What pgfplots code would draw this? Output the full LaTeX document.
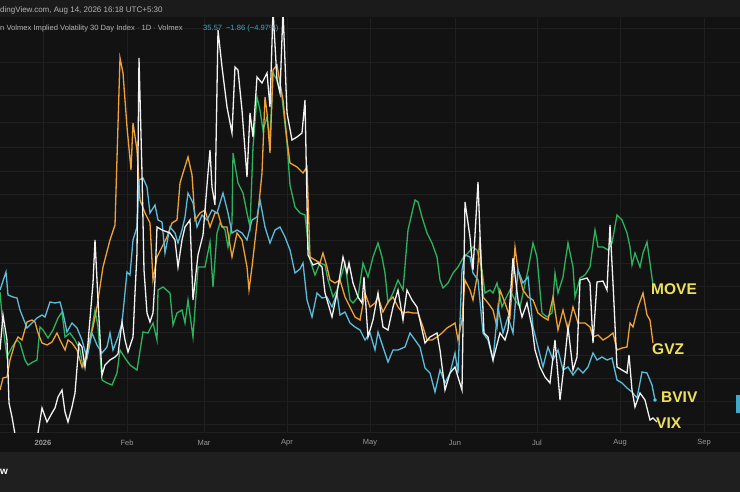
\documentclass[border=0pt]{standalone}
\usepackage{pgfplots}
\pgfplotsset{compat=1.18}
\usepackage{pgfplotstable}
\usepackage{fontspec}
\setmainfont{Liberation Sans}
\definecolor{bgc}{HTML}{121212}
\definecolor{topc}{HTML}{1B1B1B}
\definecolor{panelc}{HTML}{1F1F1F}
\definecolor{gridc}{HTML}{1F1F1F}
\definecolor{vixc}{HTML}{F2F2F2}
\definecolor{gvzc}{HTML}{F0A23A}
\definecolor{movec}{HTML}{2DB35E}
\definecolor{bvivc}{HTML}{5CBCDB}
\definecolor{labc}{HTML}{EEE25C}
\definecolor{txtc}{HTML}{B5B5B5}
\definecolor{tickc}{HTML}{9A9A9A}
\definecolor{pricec}{HTML}{3DA9CB}

\pgfplotstableread{
x y
0 290
6 272
8 295
13 297
17 298
20 310
27 328
32 323
37 318
42 315
45 317
50 302
55 303
60 302
63 313
67 332
72 323
77 328
82 340
87 358
92 333
97 345
102 353
107 347
110 333
113 350
118 337
122 323
127 272
130 275
133 240
137 227
139 180
143 178
147 187
150 213
155 205
158 220
162 222
165 253
170 227
175 233
178 243
182 230
185 217
188 193
193 203
197 227
202 215
207 220
212 210
217 213
223 193
228 213
232 233
237 230
242 233
247 240
252 220
257 217
260 200
265 227
270 243
275 230
280 227
285 237
290 250
295 273
300 269
303 263
307 300
312 317
317 293
322 298
327 297
332 307
337 293
340 315
345 312
350 323
355 327
360 330
365 340
370 333
375 350
378 332
383 347
388 362
393 350
398 350
405 347
410 333
415 340
420 347
425 368
430 373
435 392
440 370
445 383
450 373
455 353
458 373
462 270
465 255
470 257
473 273
478 280
483 333
488 340
493 360
498 307
503 333
508 317
513 333
518 270
523 283
528 277
533 327
538 347
543 367
548 347
553 360
558 350
563 370
568 367
573 375
578 368
583 373
588 367
593 353
597 360
602 357
607 360
612 358
617 380
622 383
627 388
632 392
637 398
642 372
647 373
652 385
655 400
}\bviv

\pgfplotstableread{
x y
0 350
3 315
7 340
9 403
12 417
16 440
20 455
33 455
38 433
42 408
47 422
52 413
55 408
58 397
62 390
65 412
68 422
72 407
75 393
79 343
82 347
85 367
88 343
93 283
95 240
98 300
102 375
105 365
110 360
115 357
118 354
122 322
125 340
128 352
133 337
135 293
137 253
139 58
142 173
144 270
147 313
150 322
153 313
155 280
157 227
162 230
170 233
175 240
178 267
182 240
185 227
190 220
193 300
198 255
203 235
208 173
210 150
212 187
215 205
218 30
222 67
227 107
232 133
235 67
238 70
242 110
247 177
250 113
253 137
257 77
262 83
267 73
270 107
273 10
277 80
280 93
283 10
287 113
292 140
297 137
302 133
305 100
308 255
313 265
318 263
322 267
325 293
332 317
337 293
343 257
347 273
349 263
353 283
358 297
362 303
364 277
368 337
373 320
378 293
383 327
388 330
393 307
398 290
403 320
407 290
412 300
417 307
425 343
430 337
437 333
440 350
445 390
450 373
455 367
458 377
462 390
465 202
470 237
473 270
478 182
482 287
484 333
488 337
493 360
500 333
505 340
508 330
513 258
518 300
522 317
527 303
532 327
535 350
540 367
545 377
550 383
555 340
560 400
565 357
568 327
573 370
577 357
580 280
587 278
590 283
593 343
597 282
603 281
607 290
610 225
613 283
617 367
622 370
627 373
629 355
632 390
635 407
640 393
645 400
650 420
653 418
657 422
}\vix

\pgfplotstableread{
x y
0 390
3 378
7 377
10 360
15 343
18 337
22 340
27 322
32 320
35 322
38 333
42 343
47 345
52 342
57 333
60 340
65 350
68 340
72 343
77 350
82 367
85 360
88 347
93 327
97 307
103 267
110 240
115 225
120 58
123 73
127 127
131 170
133 123
137 150
140 200
145 213
150 223
153 280
157 257
162 247
167 237
172 223
177 220
180 183
183 173
188 157
192 175
195 220
200 213
205 210
210 227
215 213
218 213
222 227
227 227
232 257
237 233
242 240
247 267
249 290
252 267
257 223
262 173
265 97
267 113
270 153
273 70
277 65
280 83
283 100
287 140
290 163
297 167
303 173
307 167
310 257
315 260
320 263
323 253
327 267
330 280
335 283
340 280
345 297
350 307
355 317
360 320
365 293
370 307
375 303
378 297
383 312
388 302
393 297
398 307
403 313
408 312
413 313
418 313
423 327
427 340
432 340
437 337
442 333
447 328
452 325
455 323
458 340
462 320
465 280
470 290
473 300
477 277
480 237
483 297
488 303
493 310
497 327
500 290
505 303
510 317
515 247
518 270
523 290
528 297
533 300
538 313
543 317
548 320
553 297
558 330
563 310
568 330
573 307
578 323
585 323
590 327
593 337
598 335
603 340
608 337
613 333
617 350
622 348
627 347
630 323
633 327
638 307
643 293
647 315
650 320
653 343
}\gvz

\pgfplotstableread{
x y
0 292
3 327
7 357
12 347
17 340
20 343
25 360
28 365
33 362
37 360
40 327
43 330
48 338
53 330
58 318
62 312
65 337
70 333
75 340
80 350
83 367
87 353
92 328
95 310
98 327
102 380
107 383
112 385
117 373
120 350
125 358
130 365
137 370
143 332
148 333
153 323
157 340
158 290
163 287
170 293
173 325
177 313
182 310
185 323
188 300
193 337
198 267
205 267
210 242
213 287
217 233
220 223
225 230
228 247
232 223
233 153
238 183
243 193
247 213
250 227
253 147
257 97
260 110
263 130
267 117
270 140
273 73
277 80
282 97
287 143
290 185
295 207
300 213
305 215
310 260
315 275
320 263
325 265
328 280
333 297
337 290
340 280
345 263
350 300
353 303
358 297
363 263
368 277
373 257
378 243
382 257
385 273
388 303
393 293
398 280
403 290
408 230
415 200
418 202
422 217
427 233
432 243
437 257
440 280
443 288
448 283
453 273
458 267
463 258
468 253
473 247
477 250
482 270
485 293
490 290
493 293
497 283
502 307
505 300
510 290
515 300
520 307
523 293
528 270
533 243
537 257
542 313
547 317
552 313
555 273
558 293
563 277
565 263
568 243
573 267
575 297
580 278
585 275
590 267
595 230
598 247
603 247
608 250
612 243
617 215
622 220
627 233
630 247
632 265
635 253
640 267
643 253
647 242
650 263
653 285
}\move

\begin{document}
\begin{tikzpicture}[x=1pt,y=1pt]
\useasboundingbox (0,0) rectangle (740,492);
\fill[bgc] (0,0) rectangle (740,492);
\fill[topc] (0,475) rectangle (740,492);
\fill[panelc] (0,0) rectangle (740,40);
\draw[gridc, line width=0.8pt] (0,60) -- (740,60);
\begin{axis}[
  at={(0pt,60pt)}, anchor=south west,
  scale only axis, width=740pt, height=414pt,
  xmin=0, xmax=740, ymin=18, ymax=432,
  y dir=reverse,
  axis line style={draw=none},
  tick style={draw=none},
  xtick={43,127,204,287,370,455,537,620,704},
  xticklabels={\textbf{2026},Feb,Mar,Apr,May,Jun,Jul,Aug,Sep},
  xticklabel pos=left,
  xticklabel style={font=\fontsize{7.5}{9}\selectfont, text=tickc, anchor=center, yshift=-11pt},
  ytick={28,62,95,122,147,171,194,217,240,263,286,309,332,355,378,401,424},
  yticklabels={},
  xmajorgrids, ymajorgrids,
  major grid style={draw=gridc, line width=0.7pt},
  clip=true,
]
\addplot[movec, line width=1.3pt] table[x=x,y=y] {\move};
\addplot[gvzc, line width=1.3pt] table[x=x,y=y] {\gvz};
\addplot[bvivc, line width=1.3pt] table[x=x,y=y] {\bviv};
\addplot[vixc, line width=1.3pt] table[x=x,y=y] {\vix};
\addplot[only marks, mark=*, mark size=1.6pt, bvivc] coordinates {(655,400)};
\end{axis}
\fill[pricec] (736,79) rectangle (740,97);
\node[anchor=west, text=labc, font=\fontsize{15.5}{18}\selectfont\bfseries, inner sep=0pt] at (651,203) {MOVE};
\node[anchor=west, text=labc, font=\fontsize{15.5}{18}\selectfont\bfseries, inner sep=0pt] at (652,143) {GVZ};
\node[anchor=west, text=labc, font=\fontsize{15.5}{18}\selectfont\bfseries, inner sep=0pt] at (661,95) {BVIV};
\node[anchor=west, text=labc, font=\fontsize{15.5}{18}\selectfont\bfseries, inner sep=0pt] at (656,69) {VIX};
\node[anchor=west, text=txtc, font=\fontsize{8}{9}\selectfont, inner sep=0pt] at (0,482) {dingView.com, Aug 14, 2026 16:18 UTC+5:30};
\node[anchor=west, text=txtc, font=\fontsize{7.6}{9}\selectfont, inner sep=0pt] at (0,463.5) {n Volmex Implied Volatility 30 Day Index $\cdot$ 1D $\cdot$ Volmex};
\node[anchor=west, text=pricec, font=\fontsize{7.6}{9}\selectfont, inner sep=0pt] at (203,463.5) {35.57\enspace −1.86 (−4.97\%)};
\node[anchor=west, text=white, font=\fontsize{10}{12}\selectfont\bfseries, inner sep=0pt] at (0,20) {w};
\end{tikzpicture}
\end{document}
